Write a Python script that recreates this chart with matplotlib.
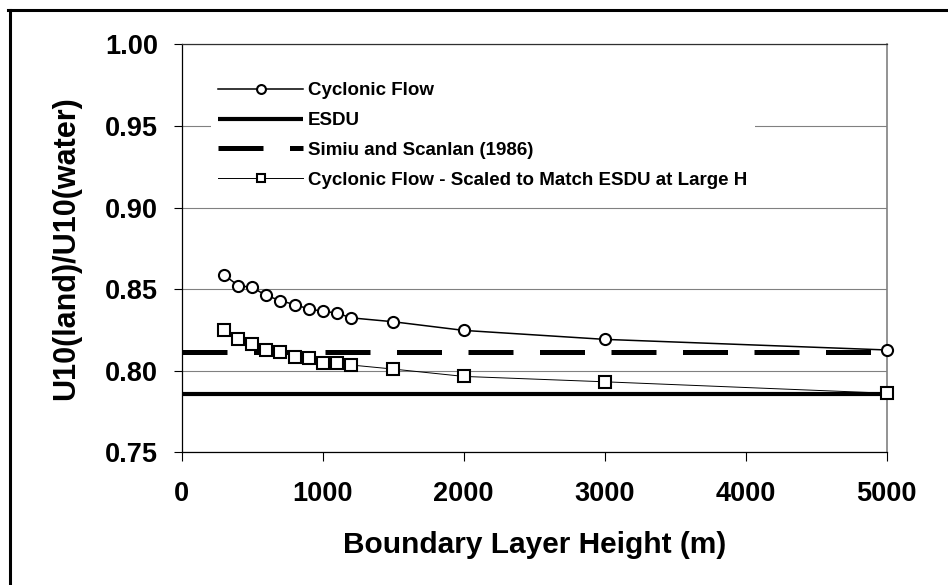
import matplotlib
matplotlib.use("Agg")
import matplotlib.pyplot as plt
from matplotlib.lines import Line2D
from matplotlib.ticker import FormatStrFormatter, MultipleLocator

# --- data ---
heights = [300, 400, 500, 600, 700, 800, 900, 1000, 1100, 1200, 1500, 2000, 3000, 5000]
cyclonic = [0.8587, 0.8522, 0.8510, 0.8461, 0.8429, 0.8405, 0.8379, 0.8364,
            0.8354, 0.8324, 0.8300, 0.8247, 0.8192, 0.8127]
cyclonic_scaled = [0.8247, 0.8192, 0.8166, 0.8127, 0.8115, 0.8085, 0.8075, 0.8046,
                   0.8046, 0.8035, 0.8010, 0.7965, 0.7932, 0.7862]
esdu_x = [0, 5000]
esdu_y = [0.7858, 0.7858]
simiu_x = [0, 5000]
simiu_y = [0.8112, 0.8112]

labels = ["Cyclonic Flow", "ESDU", "Simiu and Scanlan (1986)",
          "Cyclonic Flow - Scaled to Match ESDU at Large H"]

plt.rcParams['font.family'] = ['Liberation Sans', 'DejaVu Sans']
plt.rcParams['font.weight'] = 'bold'

W, H = 948, 585
fig = plt.figure(figsize=(W / 100, H / 100), dpi=100)
ax = fig.add_axes([181.7 / W, 1 - 452.3 / H, 705 / W, 408 / H])

# outer frame (only left and top edges are inside the picture)
fig.add_artist(Line2D([9.5 / W, 9.5 / W], [0, 1 - 9.5 / H], color='black', lw=2.2,
                      transform=fig.transFigure))
fig.add_artist(Line2D([8 / W, 1], [1 - 9.5 / H, 1 - 9.5 / H], color='black', lw=2.2,
                      transform=fig.transFigure))

ax.plot(heights, cyclonic, '-o', color='black', lw=1.1, ms=8, mew=1.5,
        mfc='white', mec='black', label=labels[0], zorder=4, clip_on=False)
ax.plot(esdu_x, esdu_y, '-', color='black', lw=3.0, label=labels[1], zorder=3,
        solid_capstyle='butt')
ax.plot(simiu_x, simiu_y, color='black', lw=3.6, dashes=(9, 5.3),
        label=labels[2], solid_capstyle='butt', dash_capstyle='butt', zorder=3)
ax.plot(heights, cyclonic_scaled, '-s', color='black', lw=0.7, ms=8, mew=1.5,
        mfc='white', mec='black', label=labels[3], zorder=4, clip_on=False)

ax.set_xlim(0, 5000)
ax.set_ylim(0.75, 1.00)
ax.xaxis.set_major_locator(MultipleLocator(1000))
ax.yaxis.set_major_locator(MultipleLocator(0.05))
ax.yaxis.set_major_formatter(FormatStrFormatter('%.2f'))
ax.grid(axis='y', color='#808080', lw=0.8)
ax.set_axisbelow(True)

for s in ['left', 'bottom']:
    ax.spines[s].set_color('black')
    ax.spines[s].set_linewidth(0.9)
ax.spines['top'].set_color('#303030')
ax.spines['top'].set_linewidth(0.9)
ax.spines['right'].set_color('#808080')
ax.spines['right'].set_linewidth(1.2)

ax.tick_params(axis='y', direction='out', length=6, width=0.8, pad=11, labelsize=19.5)
ax.tick_params(axis='x', direction='out', length=6.5, width=0.8, pad=14, labelsize=19.5)
for t in ax.get_xticklabels() + ax.get_yticklabels():
    t.set_fontweight('bold')

ax.set_xlabel("Boundary Layer Height (m)", fontsize=21.5, fontweight='bold')
ax.set_ylabel("U10(land)/U10(water)", fontsize=22, fontweight='bold')
ax.xaxis.set_label_coords(0.5, -0.193)
ax.yaxis.set_label_coords(-0.142, 0.5)

leg = ax.legend(loc='upper left', bbox_to_anchor=(0.028, 0.9486), fontsize=13.5,
                handlelength=4.5, handletextpad=0.27, labelspacing=0.68,
                borderpad=0.4, markerscale=0.8, frameon=True, fancybox=False)
leg.get_frame().set_facecolor('white')
leg.get_frame().set_edgecolor('none')
leg.get_frame().set_alpha(1)
for t in leg.get_texts():
    t.set_fontweight('bold')

fig.savefig("out.png", dpi=100, facecolor='white')
